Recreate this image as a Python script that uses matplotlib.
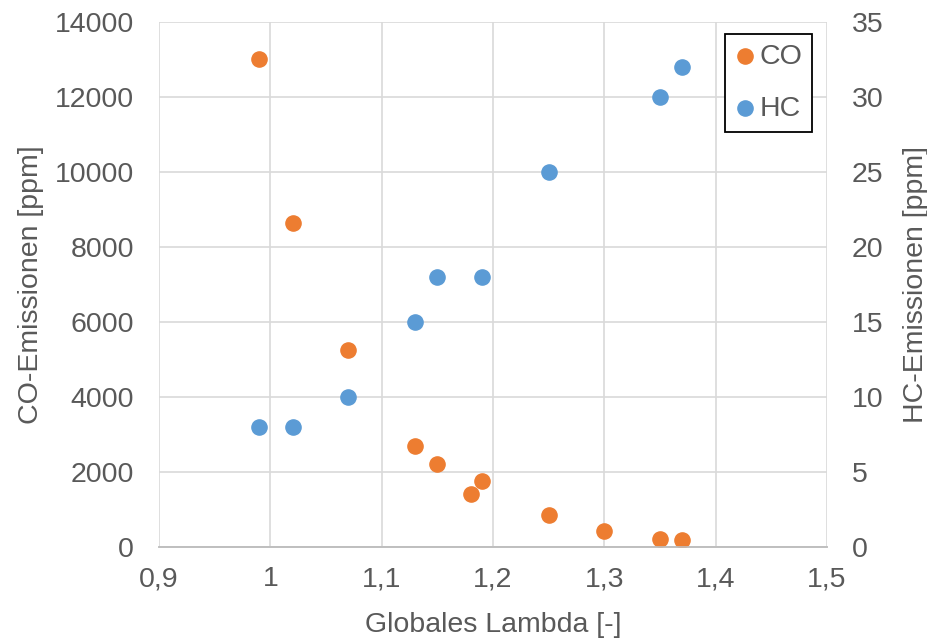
import matplotlib.pyplot as plt
from matplotlib.ticker import FuncFormatter

plt.rcParams['font.family'] = ['Liberation Sans', 'DejaVu Sans']

# Messwerte
lambda_co = [0.99, 1.02, 1.07, 1.13, 1.15, 1.18, 1.19, 1.25, 1.30, 1.35, 1.37]
co_ppm = [13000, 8650, 5250, 2690, 2210, 1410, 1760, 850, 420, 210, 190]

lambda_hc = [0.99, 1.02, 1.07, 1.13, 1.15, 1.19, 1.25, 1.35, 1.37]
hc_ppm = [8, 8, 10, 15, 18, 18, 25, 30, 32]

x_ticks = [0.9, 1.0, 1.1, 1.2, 1.3, 1.4, 1.5]
co_ticks = [0, 2000, 4000, 6000, 8000, 10000, 12000, 14000]
hc_ticks = [0, 5, 10, 15, 20, 25, 30, 35]

text_col = '#595959'
grid_col = '#d9d9d9'
orange = '#ED7D31'
blue = '#5B9BD5'
fs = 20.5

fig = plt.figure(figsize=(9.28, 6.41), dpi=100)
ax = fig.add_axes([159 / 928, 1 - 547 / 641, (827 - 159) / 928, (547 - 22) / 641])
ax2 = ax.twinx()

sc_co = ax.scatter(lambda_co, co_ppm, s=120, color=orange, zorder=3, label='CO')
sc_hc = ax2.scatter(lambda_hc, hc_ppm, s=120, color=blue, zorder=3, label='HC')

ax.set_xlim(0.9, 1.5)
ax.set_ylim(0, 14000)
ax2.set_ylim(0, 35)
ax.set_xticks(x_ticks)
ax.set_yticks(co_ticks)
ax2.set_yticks(hc_ticks)

ax.xaxis.set_major_formatter(FuncFormatter(lambda v, p: ('%g' % round(v, 2)).replace('.', ',')))

ax.grid(True, color=grid_col, linewidth=1.2, zorder=0)
ax.set_axisbelow(True)

for a in (ax, ax2):
    for side in ('top', 'left', 'right'):
        a.spines[side].set_visible(False)
    a.spines['bottom'].set_color('#bfbfbf')
    a.spines['bottom'].set_linewidth(1.2)

ax.tick_params(axis='x', length=0, pad=14, labelsize=fs, labelcolor=text_col)
ax.tick_params(axis='y', length=0, pad=18, labelsize=fs, labelcolor=text_col)
ax2.tick_params(axis='y', length=0, pad=18, labelsize=fs, labelcolor=text_col)

ax.set_xlabel('Globales Lambda [-]', fontsize=fs, color=text_col, labelpad=14)
ax.set_ylabel('CO-Emissionen [ppm]', fontsize=fs, color=text_col, labelpad=8)
ax2.set_ylabel('HC-Emissionen [ppm]', fontsize=fs, color=text_col, labelpad=14, rotation=90)

leg = ax2.legend([sc_co, sc_hc], ['CO', 'HC'], loc='upper left',
                 bbox_to_anchor=(725 / 928, 1 - 34 / 641), bbox_transform=fig.transFigure,
                 borderaxespad=0, frameon=True, fancybox=False, edgecolor='black',
                 framealpha=1, fontsize=fs, labelcolor=text_col, handlelength=0.7,
                 handletextpad=0.15, borderpad=0.35, labelspacing=0.9, scatterpoints=1)
leg.get_frame().set_linewidth(1.3)

fig.savefig('out.png', dpi=100)
